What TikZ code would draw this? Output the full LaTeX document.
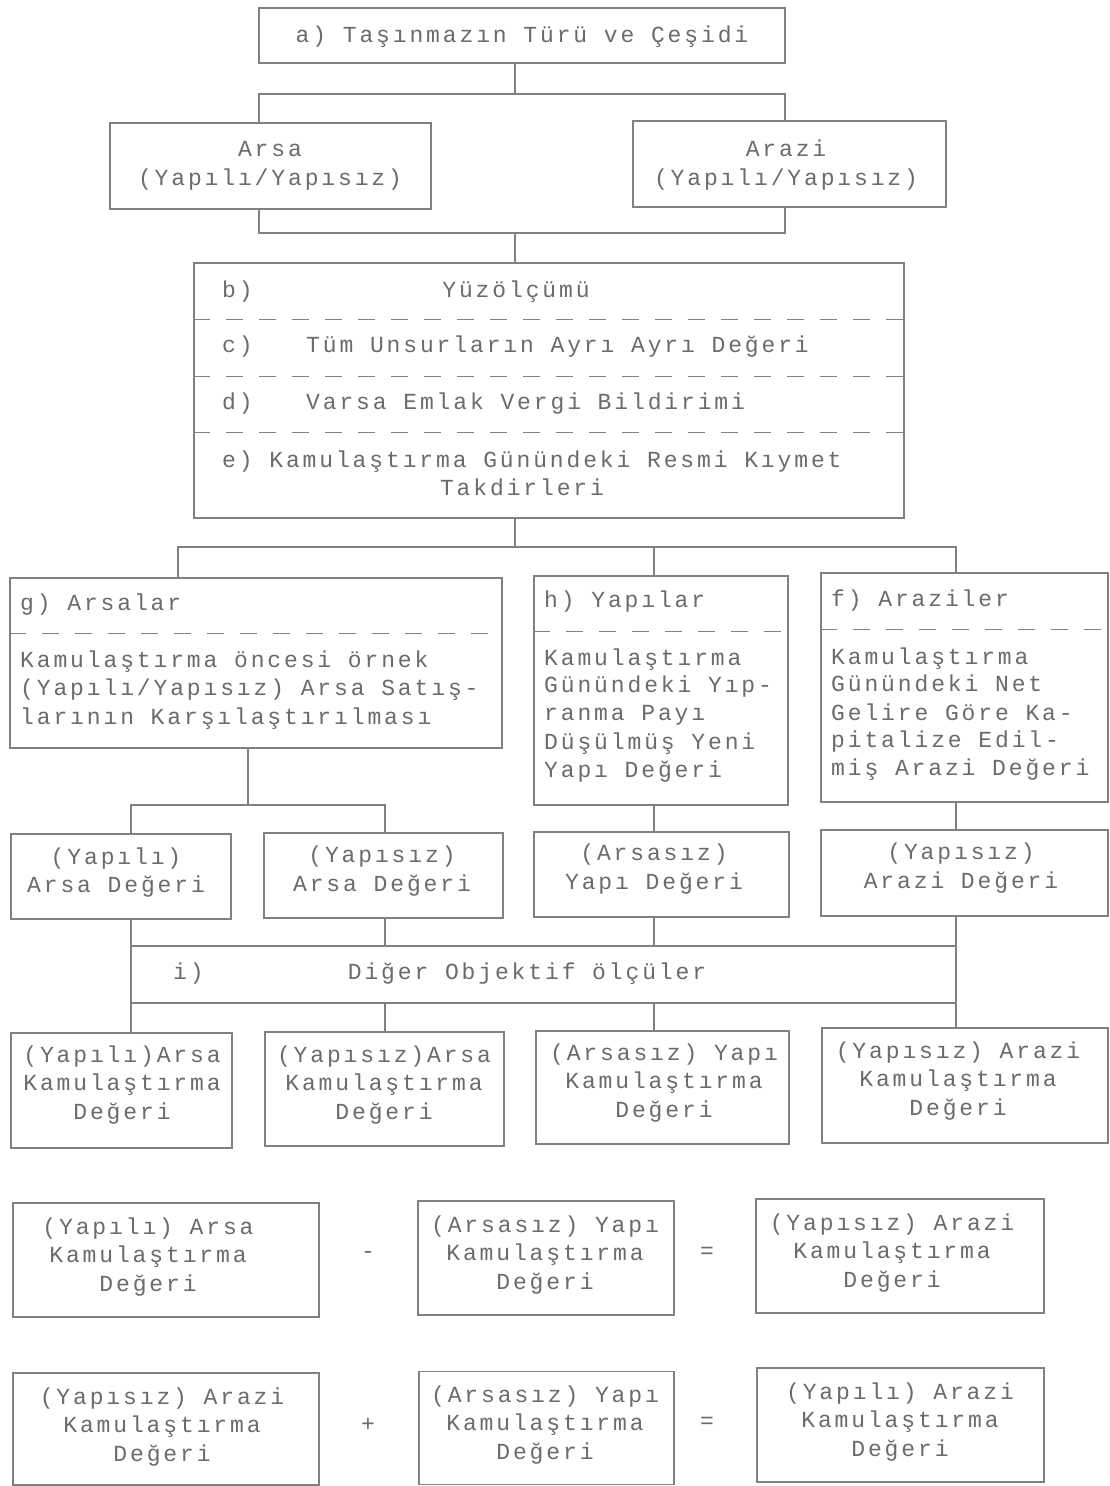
\documentclass[tikz,border=0pt]{standalone}
\usepackage{fontspec}
\setmainfont{Liberation Mono}[LetterSpace=12.5]
\definecolor{linecol}{gray}{0.5}
\definecolor{txtcol}{gray}{0.42}
\tikzset{
  box/.style={draw=linecol, line width=1.4pt, inner sep=0pt, rectangle},
  txt/.style={text=txtcol, inner sep=0pt, font=\fontsize{23}{28.5}\selectfont, align=center},
  ltxt/.style={text=txtcol, inner sep=0pt, font=\fontsize{23}{28.5}\selectfont, anchor=base west},
  ctxt/.style={text=txtcol, inner sep=0pt, font=\fontsize{23}{28.5}\selectfont, anchor=base},
  conn/.style={draw=linecol, line width=1.4pt},
  sep/.style={draw=linecol, line width=1.3pt, dash pattern=on 17pt off 16pt},
}
\begin{document}
\begin{tikzpicture}[x=1pt,y=-1pt]
\useasboundingbox[fill=white] (0,0) rectangle (1110,1486);

% ---- a
\node[box, minimum width=526, minimum height=55] (a) at (522,35.5) {};
\node[txt] (ta) at (522,37) {a) Taşınmazın Türü ve Çeşidi};

% ---- arsa / arazi
\node[box, minimum width=321, minimum height=86] (arsa) at (270.5,166) {};
\node[txt] (tarsa) at (270,166) {Arsa\\(Yapılı/Yapısız)};
\node[box, minimum width=313, minimum height=86] (arazi) at (789.5,164) {};
\node[txt] (tarazi) at (786,165) {Arazi\\(Yapılı/Yapısız)};

% ---- b-e
\node[box, minimum width=710, minimum height=255] (be) at (549,390.5) {};
\draw[sep] ([yshift=-57pt]be.north west) -- ([yshift=-57pt]be.north east);
\draw[sep] ([yshift=-114pt]be.north west) -- ([yshift=-114pt]be.north east);
\draw[sep] ([yshift=-170pt]be.north west) -- ([yshift=-170pt]be.north east);
\node[ltxt] (tb) at (222,297) {b)};
\node[ctxt] (tbb) at (516,297) {Yüzölçümü};
\node[ltxt] (tc) at (222,352) {c)};
\node[ltxt] (tcc) at (306,352) {Tüm Unsurların Ayrı Ayrı Değeri};
\node[ltxt] (td) at (222,409) {d)};
\node[ltxt] (tdd) at (306,409) {Varsa Emlak Vergi Bildirimi};
\node[ltxt] (te) at (222,467) {e) Kamulaştırma Günündeki Resmi Kıymet};
\node[ctxt] (tee) at (522,495) {Takdirleri};

% ---- g
\node[box, minimum width=492, minimum height=170] (g) at (256,663) {};
\draw[sep] ([yshift=-56pt]g.north west) -- ([yshift=-56pt]g.north east);
\node[ltxt] (tg0) at (20,610) {g) Arsalar};
\node[ltxt] (tg1) at (20,667) {Kamulaştırma öncesi örnek};
\node[ltxt] (tg2) at (20,695) {(Yapılı/Yapısız) Arsa Satış-};
\node[ltxt] (tg3) at (20,724) {larının Karşılaştırılması};

% ---- h
\node[box, minimum width=254, minimum height=229] (h) at (661,690.5) {};
\draw[sep] ([yshift=-56pt]h.north west) -- ([yshift=-56pt]h.north east);
\node[ltxt] (th0) at (544,607) {h) Yapılar};
\node[ltxt] (th1) at (544,665) {Kamulaştırma};
\node[ltxt] (th2) at (544,692) {Günündeki Yıp-};
\node[ltxt] (th3) at (544,720) {ranma Payı};
\node[ltxt] (th4) at (544,749) {Düşülmüş Yeni};
\node[ltxt] (th5) at (544,777) {Yapı Değeri};

% ---- f
\node[box, minimum width=287, minimum height=229] (f) at (964.5,687.5) {};
\draw[sep] ([yshift=-57pt]f.north west) -- ([yshift=-57pt]f.north east);
\node[ltxt] (tf0) at (831,606) {f) Araziler};
\node[ltxt] (tf1) at (831,664) {Kamulaştırma};
\node[ltxt] (tf2) at (831,691) {Günündeki Net};
\node[ltxt] (tf3) at (831,720) {Gelire Göre Ka-};
\node[ltxt] (tf4) at (831,747) {pitalize Edil-};
\node[ltxt] (tf5) at (831,775) {miş Arazi Değeri};

% ---- value row
\node[box, minimum width=220, minimum height=85] (v1) at (121,876.5) {};
\node[txt] (tv1) at (116,872.5) {(Yapılı)\\Arsa Değeri};
\node[box, minimum width=239, minimum height=85] (v2) at (383.5,875.5) {};
\node[txt] (tv2) at (382,871) {(Yapısız)\\Arsa Değeri};
\node[box, minimum width=255, minimum height=85] (v3) at (661.5,874.5) {};
\node[txt] (tv3) at (654,869) {(Arsasız)\\Yapı Değeri};
\node[box, minimum width=287, minimum height=86] (v4) at (964.5,873) {};
\node[txt] (tv4) at (961,868) {(Yapısız)\\Arazi Değeri};

% ---- i
\node[box, minimum width=825, minimum height=57] (i) at (543.5,974.5) {};
\node[ltxt] (ti) at (173,979) {i)};
\node[ctxt] (tii) at (527,979) {Diğer Objektif ölçüler};

% ---- expropriation row
\node[box, minimum width=221, minimum height=115] (k1) at (121.5,1090.5) {};
\node[txt] (tk1) at (122,1085) {(Yapılı)Arsa\\Kamulaştırma\\Değeri};
\node[box, minimum width=239, minimum height=114] (k2) at (384.5,1089) {};
\node[txt] (tk2) at (384,1085) {(Yapısız)Arsa\\Kamulaştırma\\Değeri};
\node[box, minimum width=253, minimum height=113] (k3) at (662.5,1087.5) {};
\node[txt] (tk3) at (664,1083) {(Arsasız) Yapı\\Kamulaştırma\\Değeri};
\node[box, minimum width=286, minimum height=115] (k4) at (965,1085.5) {};
\node[txt] (tk4) at (958,1081) {(Yapısız) Arazi\\Kamulaştırma\\Değeri};

% ---- equations
\node[box, minimum width=306, minimum height=114] (e1) at (166,1260) {};
\node[txt] (te1) at (148,1257) {(Yapılı) Arsa\\Kamulaştırma\\Değeri};
\node[txt] (minus) at (368,1255) {-};
\node[box, minimum width=256, minimum height=114] (e2) at (546,1258) {};
\node[txt] (te2) at (545,1255) {(Arsasız) Yapı\\Kamulaştırma\\Değeri};
\node[txt] (eqa) at (707,1253) {=};
\node[box, minimum width=288, minimum height=114] (e3) at (900,1256) {};
\node[txt] (te3) at (892,1253) {(Yapısız) Arazi\\Kamulaştırma\\Değeri};

\node[box, minimum width=306, minimum height=112] (e4) at (166,1429) {};
\node[txt] (te4) at (162,1427) {(Yapısız) Arazi\\Kamulaştırma\\Değeri};
\node[txt] (plus) at (368,1425) {+};
\node[box, minimum width=255, minimum height=113] (e5) at (546.5,1428) {};
\node[txt] (te5) at (545,1425) {(Arsasız) Yapı\\Kamulaştırma\\Değeri};
\node[txt] (eqb) at (707,1423) {=};
\node[box, minimum width=287, minimum height=114] (e6) at (900.5,1425) {};
\node[txt] (te6) at (900,1422) {(Yapılı) Arazi\\Kamulaştırma\\Değeri};

% ---- connectors
\coordinate (j1m) at (515,94);  \coordinate (j1l) at (259,94);  \coordinate (j1r) at (785,94);
\draw[conn] (a.south -| j1m) -- (j1m);
\draw[conn] (arsa.north -| j1l) |- (j1r) -- (arazi.north -| j1r);

\coordinate (j2m) at (515,233); \coordinate (j2l) at (259,233); \coordinate (j2r) at (785,233);
\draw[conn] (arsa.south -| j2l) |- (j2r) -- (arazi.south -| j2r);
\draw[conn] (j2m) -- (be.north -| j2m);

\coordinate (j3m) at (515,547); \coordinate (j3l) at (178,547);
\coordinate (j3c) at (654,547); \coordinate (j3r) at (956,547);
\draw[conn] (be.south -| j3m) -- (j3m);
\draw[conn] (g.north -| j3l) |- (j3r) -- (f.north -| j3r);
\draw[conn] (j3c) -- (h.north -| j3c);

\coordinate (j4m) at (248,805); \coordinate (j4l) at (131,805); \coordinate (j4r) at (385,805);
\draw[conn] (g.south -| j4m) -- (j4m);
\draw[conn] (v1.north -| j4l) |- (j4r) -- (v2.north -| j4r);
\draw[conn] (h.south -| j3c) -- (v3.north -| j3c);
\draw[conn] (f.south -| j3r) -- (v4.north -| j3r);

\draw[conn] (v1.south -| j4l) -- (k1.north -| j4l);
\draw[conn] (v4.south -| j3r) -- (k4.north -| j3r);
\draw[conn] (v2.south -| j4r) -- (i.north -| j4r);
\draw[conn] (i.south -| j4r) -- (k2.north -| j4r);
\draw[conn] (v3.south -| j3c) -- (i.north -| j3c);
\draw[conn] (i.south -| j3c) -- (k3.north -| j3c);
\end{tikzpicture}
\end{document}
